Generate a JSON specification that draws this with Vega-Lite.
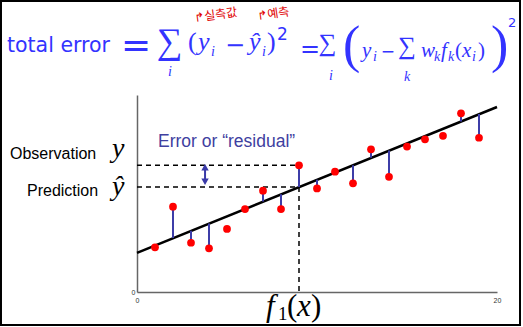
{
  "$schema": "https://vega.github.io/schema/vega-lite/v6.json",
  "width": 360,
  "height": 197,
  "autosize": {"type": "none"},
  "padding": {"left": 137, "top": 95, "right": 26, "bottom": 35},
  "background": "white",
  "config": {
    "view": {"stroke": null},
    "axis": {"grid": false, "ticks": false, "domainColor": "#666666", "domainWidth": 1.5, "labelFontSize": 7, "labelColor": "#333333", "labelFont": "Liberation Sans", "labelFlush": false, "title": null}
  },
  "datasets": {
    "frame": [{"x": -7.556, "x2": 21.278, "y": 14.772, "y2": -1.675}],
    "fit": [{"x": 0, "y": 1.99}, {"x": 20, "y": 9.39}],
    "points": [
      {"x": 1, "y": 2.27, "yhat": 2.37},
      {"x": 2, "y": 4.33, "yhat": 2.74},
      {"x": 3, "y": 2.50, "yhat": 3.11},
      {"x": 4, "y": 2.22, "yhat": 3.48},
      {"x": 5, "y": 3.20, "yhat": null},
      {"x": 6, "y": 4.21, "yhat": 4.22},
      {"x": 7, "y": 5.14, "yhat": 4.59},
      {"x": 8, "y": 4.21, "yhat": 4.96},
      {"x": 9, "y": 6.43, "yhat": 5.33},
      {"x": 10, "y": 5.26, "yhat": 5.70},
      {"x": 11, "y": 6.11, "yhat": 6.07},
      {"x": 12, "y": 5.52, "yhat": 6.44},
      {"x": 13, "y": 7.24, "yhat": 6.81},
      {"x": 14, "y": 5.85, "yhat": 7.18},
      {"x": 15, "y": 7.38, "yhat": 7.55},
      {"x": 16, "y": 7.75, "yhat": 7.92},
      {"x": 17, "y": 7.93, "yhat": null},
      {"x": 18, "y": 9.07, "yhat": 8.66},
      {"x": 19, "y": 7.83, "yhat": 9.03}
    ],
    "dashes": [
      {"x": 0, "x2": 9, "y": 6.43, "y2": 6.43},
      {"x": 0, "x2": 9, "y": 5.33, "y2": 5.33},
      {"x": 9, "x2": 9, "y": 5.33, "y2": -0.15}
    ],
    "arrow": [{"x": 3.78, "y": 6.33, "y2": 5.6}],
    "labels": [
      {"kind": "sans", "text": "total error", "x": -7.222, "y": 12.183},
      {"kind": "eq1", "text": "=", "x": -0.056, "y": 12.462},
      {"kind": "sig1", "text": "∑", "x": 1.806, "y": 12.695},
      {"kind": "subC", "text": "i", "x": 1.833, "y": 11.168},
      {"kind": "p1", "text": "(", "x": 2.833, "y": 12.284},
      {"kind": "m1", "text": "y", "x": 3.389, "y": 12.284},
      {"kind": "subL", "text": "i", "x": 4.111, "y": 11.98},
      {"kind": "op1", "text": "−", "x": 5.444, "y": 12.487},
      {"kind": "m1", "text": "ŷ", "x": 6.222, "y": 12.284},
      {"kind": "subL", "text": "i", "x": 6.944, "y": 11.98},
      {"kind": "p1", "text": ")", "x": 7.222, "y": 12.284},
      {"kind": "sup1", "text": "2", "x": 7.778, "y": 12.792},
      {"kind": "op2", "text": "=", "x": 9.611, "y": 12.284},
      {"kind": "sig2", "text": "∑", "x": 10.583, "y": 12.624},
      {"kind": "subC", "text": "i", "x": 10.778, "y": 10.964},
      {"kind": "big", "text": "(", "x": 11.444, "y": 12.487},
      {"kind": "m2", "text": "y", "x": 12.5, "y": 11.929},
      {"kind": "subL", "text": "i", "x": 13.111, "y": 11.726},
      {"kind": "op3", "text": "−", "x": 13.944, "y": 12.183},
      {"kind": "sig2", "text": "∑", "x": 15.0, "y": 12.5},
      {"kind": "subC", "text": "k", "x": 15.0, "y": 10.914},
      {"kind": "m2", "text": "w", "x": 15.778, "y": 11.929},
      {"kind": "subL", "text": "k", "x": 16.5, "y": 11.726},
      {"kind": "m2", "text": "f", "x": 16.889, "y": 11.929},
      {"kind": "subL", "text": "k", "x": 17.278, "y": 11.726},
      {"kind": "p2", "text": "(", "x": 17.667, "y": 11.929},
      {"kind": "m2", "text": "x", "x": 18.056, "y": 11.929},
      {"kind": "subL", "text": "i", "x": 18.611, "y": 11.726},
      {"kind": "p2", "text": ")", "x": 18.944, "y": 11.929},
      {"kind": "big", "text": ")", "x": 19.667, "y": 12.487},
      {"kind": "sup2", "text": "2", "x": 20.611, "y": 13.452},
      {"kind": "kor", "text": "↱실측값", "x": 3.222, "y": 13.706},
      {"kind": "kor", "text": "↱예측", "x": 6.722, "y": 13.807},
      {"kind": "note", "text": "Observation", "x": -7.056, "y": 6.751},
      {"kind": "note", "text": "Prediction", "x": -6.111, "y": 4.873},
      {"kind": "mathv", "text": "y", "x": -1.389, "y": 6.853},
      {"kind": "mathv", "text": "ŷ", "x": -1.389, "y": 4.949},
      {"kind": "mathx", "text": "f", "x": 7.167, "y": -1.219},
      {"kind": "xsub", "text": "1", "x": 7.833, "y": -1.421},
      {"kind": "xpar", "text": "(", "x": 8.333, "y": -1.219},
      {"kind": "mathx", "text": "x", "x": 8.889, "y": -1.219},
      {"kind": "xpar", "text": ")", "x": 9.667, "y": -1.219},
      {"kind": "err", "text": "Error or “residual”", "x": 1.167, "y": 7.36}
    ]
  },
  "encoding": {
    "x": {"field": "x", "type": "quantitative", "scale": {"domain": [0, 20], "nice": false, "zero": false}, "axis": {"values": [0, 20], "labelPadding": 4, "title": null}},
    "y": {"field": "y", "type": "quantitative", "scale": {"domain": [0, 10], "nice": false, "zero": false}, "axis": {"values": [0], "labelPadding": 2, "title": null}}
  },
  "layer": [
    {"data": {"name": "frame"}, "mark": {"type": "rect", "fillOpacity": 0, "stroke": "black", "strokeWidth": 2}, "encoding": {"x2": {"field": "x2"}, "y2": {"field": "y2"}}},
    {"data": {"name": "fit"}, "mark": {"type": "line", "color": "black", "strokeWidth": 2.5}, "encoding": {}},
    {"data": {"name": "points"}, "transform": [{"filter": "isValid(datum.yhat)"}], "mark": {"type": "rule", "color": "#3d3da8", "strokeWidth": 2}, "encoding": {"y2": {"field": "yhat"}}},
    {"data": {"name": "dashes"}, "mark": {"type": "rule", "color": "black", "strokeWidth": 1.5, "strokeDash": [5, 4]}, "encoding": {"x2": {"field": "x2"}, "y2": {"field": "y2"}}},
    {"data": {"name": "arrow"}, "mark": {"type": "rule", "color": "#3a3aa8", "strokeWidth": 2}, "encoding": {"y2": {"field": "y2"}}},
    {"data": {"name": "arrow"}, "mark": {"type": "point", "shape": "triangle-up", "filled": true, "size": 55, "color": "#3a3aa8", "opacity": 1}, "encoding": {}},
    {"data": {"name": "arrow"}, "mark": {"type": "point", "shape": "triangle-down", "filled": true, "size": 55, "color": "#3a3aa8", "opacity": 1}, "encoding": {"y": {"field": "y2", "type": "quantitative"}}},
    {"data": {"name": "points"}, "mark": {"type": "circle", "size": 60, "color": "#ff0000", "opacity": 1}, "encoding": {}},
    {"data": {"name": "labels"}, "transform": [{"filter": "datum.kind === 'sans'"}], "mark": {"type": "text", "font": "DejaVu Sans", "fontSize": 20.5, "color": "#3333ff", "align": "left", "baseline": "alphabetic"}, "encoding": {"text": {"field": "text"}}},
    {"data": {"name": "labels"}, "transform": [{"filter": "datum.kind === 'eq1'"}], "mark": {"type": "text", "font": "DejaVu Sans", "fontSize": 36, "color": "#3333ff", "align": "center", "baseline": "middle"}, "encoding": {"text": {"field": "text"}}},
    {"data": {"name": "labels"}, "transform": [{"filter": "datum.kind === 'op1'"}], "mark": {"type": "text", "font": "DejaVu Sans", "fontSize": 24, "color": "#3333ff", "align": "center", "baseline": "middle"}, "encoding": {"text": {"field": "text"}}},
    {"data": {"name": "labels"}, "transform": [{"filter": "datum.kind === 'op2'"}], "mark": {"type": "text", "font": "DejaVu Sans", "fontSize": 24, "color": "#3333ff", "align": "center", "baseline": "middle"}, "encoding": {"text": {"field": "text"}}},
    {"data": {"name": "labels"}, "transform": [{"filter": "datum.kind === 'op3'"}], "mark": {"type": "text", "font": "DejaVu Sans", "fontSize": 17, "color": "#3333ff", "align": "center", "baseline": "middle"}, "encoding": {"text": {"field": "text"}}},
    {"data": {"name": "labels"}, "transform": [{"filter": "datum.kind === 'sig1'"}], "mark": {"type": "text", "font": "Liberation Serif", "fontSize": 36, "color": "#3333ff", "align": "center", "baseline": "middle"}, "encoding": {"text": {"field": "text"}}},
    {"data": {"name": "labels"}, "transform": [{"filter": "datum.kind === 'sig2'"}], "mark": {"type": "text", "font": "Liberation Serif", "fontSize": 25, "color": "#3333ff", "align": "center", "baseline": "middle"}, "encoding": {"text": {"field": "text"}}},
    {"data": {"name": "labels"}, "transform": [{"filter": "datum.kind === 'subC'"}], "mark": {"type": "text", "font": "Liberation Serif", "fontStyle": "italic", "fontSize": 14, "color": "#3333ff", "align": "center", "baseline": "middle"}, "encoding": {"text": {"field": "text"}}},
    {"data": {"name": "labels"}, "transform": [{"filter": "datum.kind === 'subL'"}], "mark": {"type": "text", "font": "Liberation Serif", "fontStyle": "italic", "fontSize": 14, "color": "#3333ff", "align": "left", "baseline": "alphabetic"}, "encoding": {"text": {"field": "text"}}},
    {"data": {"name": "labels"}, "transform": [{"filter": "datum.kind === 'm1'"}], "mark": {"type": "text", "font": "Liberation Serif", "fontStyle": "italic", "fontSize": 26, "color": "#3333ff", "align": "left", "baseline": "alphabetic"}, "encoding": {"text": {"field": "text"}}},
    {"data": {"name": "labels"}, "transform": [{"filter": "datum.kind === 'm2'"}], "mark": {"type": "text", "font": "Liberation Serif", "fontStyle": "italic", "fontSize": 21, "color": "#3333ff", "align": "left", "baseline": "alphabetic"}, "encoding": {"text": {"field": "text"}}},
    {"data": {"name": "labels"}, "transform": [{"filter": "datum.kind === 'p1'"}], "mark": {"type": "text", "font": "Liberation Serif", "fontSize": 26, "color": "#3333ff", "align": "left", "baseline": "alphabetic"}, "encoding": {"text": {"field": "text"}}},
    {"data": {"name": "labels"}, "transform": [{"filter": "datum.kind === 'p2'"}], "mark": {"type": "text", "font": "Liberation Serif", "fontSize": 21, "color": "#3333ff", "align": "left", "baseline": "alphabetic"}, "encoding": {"text": {"field": "text"}}},
    {"data": {"name": "labels"}, "transform": [{"filter": "datum.kind === 'big'"}], "mark": {"type": "text", "font": "Liberation Serif", "fontSize": 52, "color": "#3333ff", "align": "left", "baseline": "middle"}, "encoding": {"text": {"field": "text"}}},
    {"data": {"name": "labels"}, "transform": [{"filter": "datum.kind === 'sup1'"}], "mark": {"type": "text", "font": "DejaVu Sans", "fontSize": 17, "color": "#3333ff", "align": "left", "baseline": "alphabetic"}, "encoding": {"text": {"field": "text"}}},
    {"data": {"name": "labels"}, "transform": [{"filter": "datum.kind === 'sup2'"}], "mark": {"type": "text", "font": "DejaVu Sans", "fontSize": 13, "color": "#3333ff", "align": "left", "baseline": "alphabetic"}, "encoding": {"text": {"field": "text"}}},
    {"data": {"name": "labels"}, "transform": [{"filter": "datum.kind === 'kor'"}], "mark": {"type": "text", "font": "Noto Sans CJK KR", "fontSize": 12, "color": "#e00000", "align": "left", "baseline": "alphabetic", "angle": 352}, "encoding": {"text": {"field": "text"}}},
    {"data": {"name": "labels"}, "transform": [{"filter": "datum.kind === 'note'"}], "mark": {"type": "text", "font": "Liberation Sans", "fontSize": 16, "color": "black", "align": "left", "baseline": "alphabetic"}, "encoding": {"text": {"field": "text"}}},
    {"data": {"name": "labels"}, "transform": [{"filter": "datum.kind === 'mathv'"}], "mark": {"type": "text", "font": "Liberation Serif", "fontStyle": "italic", "fontSize": 28, "color": "black", "align": "left", "baseline": "alphabetic"}, "encoding": {"text": {"field": "text"}}},
    {"data": {"name": "labels"}, "transform": [{"filter": "datum.kind === 'mathx'"}], "mark": {"type": "text", "font": "Liberation Serif", "fontStyle": "italic", "fontSize": 31, "color": "black", "align": "left", "baseline": "alphabetic"}, "encoding": {"text": {"field": "text"}}},
    {"data": {"name": "labels"}, "transform": [{"filter": "datum.kind === 'xsub'"}], "mark": {"type": "text", "font": "Liberation Serif", "fontSize": 19, "color": "black", "align": "left", "baseline": "alphabetic"}, "encoding": {"text": {"field": "text"}}},
    {"data": {"name": "labels"}, "transform": [{"filter": "datum.kind === 'xpar'"}], "mark": {"type": "text", "font": "Liberation Serif", "fontSize": 31, "color": "black", "align": "left", "baseline": "alphabetic"}, "encoding": {"text": {"field": "text"}}},
    {"data": {"name": "labels"}, "transform": [{"filter": "datum.kind === 'err'"}], "mark": {"type": "text", "font": "Liberation Sans", "fontSize": 17.5, "color": "#4040a0", "align": "left", "baseline": "alphabetic"}, "encoding": {"text": {"field": "text"}}}
  ]
}
